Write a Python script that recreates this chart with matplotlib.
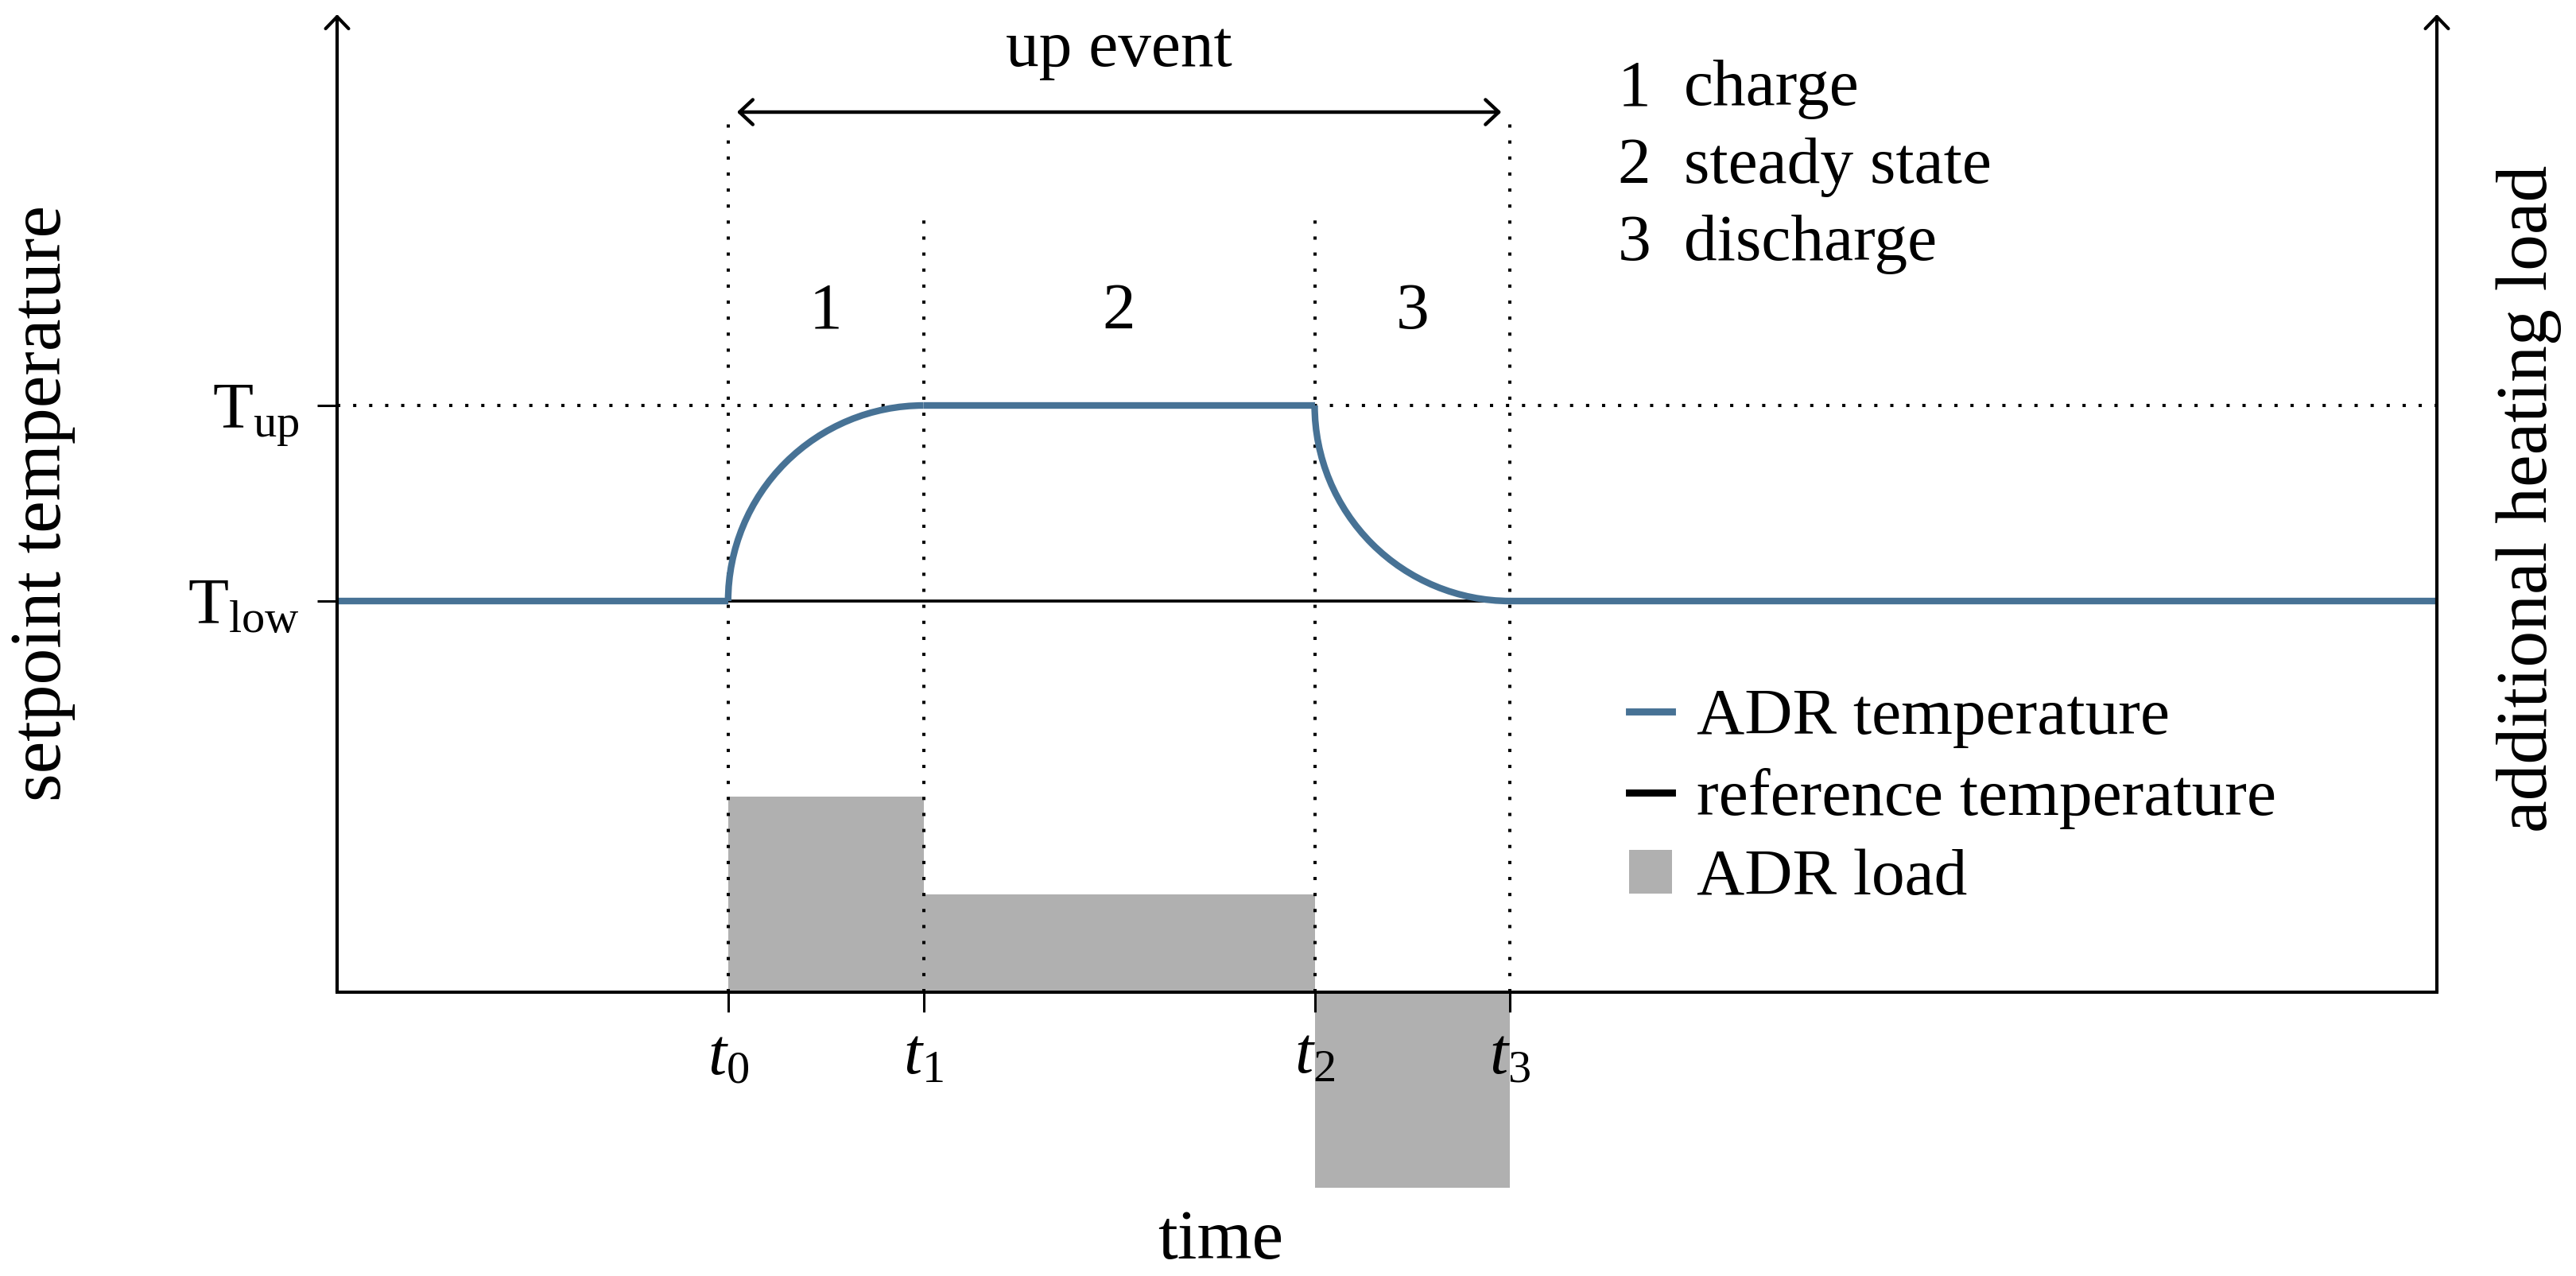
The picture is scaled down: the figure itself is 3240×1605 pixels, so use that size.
import matplotlib
matplotlib.use("Agg")
import matplotlib.pyplot as plt
from matplotlib.patches import Arc, FancyArrowPatch, Patch
from matplotlib.lines import Line2D
from matplotlib.transforms import blended_transform_factory

# ---------------- data ----------------
t_names = [r"$t_0$", r"$t_1$", r"$t_2$", r"$t_3$"]
t_vals = [2.0, 3.0, 5.0, 6.0]
x_max = 10.74
T_names = [r"$\mathrm{T}_{\mathrm{low}}$", r"$\mathrm{T}_{\mathrm{up}}$"]
T_vals = [4.0, 6.0]
load_heights = [2.0, 1.0, -2.0]          # ADR load per phase (charge, steady, discharge)
phase_numbers = ["1", "2", "3"]
phase_names = ["charge", "steady state", "discharge"]
legend_labels = ["ADR temperature", "reference temperature", "ADR load"]
axis_top = 10.0
event_level = 9.0
inner_level = 8.0

BLUE = "#477295"
GRAY = "#b0b0b0"

plt.rcParams["font.family"] = ["Liberation Serif", "DejaVu Serif"]
plt.rcParams["mathtext.fontset"] = "custom"
plt.rcParams["mathtext.rm"] = "Liberation Serif"
plt.rcParams["mathtext.it"] = "Liberation Serif:italic"

W, H, DPI = 3241, 1605, 200
fig = plt.figure(figsize=(W / DPI, H / DPI), dpi=DPI)
y_lo, y_hi = -2.1, 10.1
px_per_unit = 123.0
y0_px = 1248.0
bot_px = y0_px - y_lo * px_per_unit
top_px = y0_px - y_hi * px_per_unit
left_px, right_px = 424.0, 3065.0
ax = fig.add_axes([left_px / W, (H - bot_px) / H, (right_px - left_px) / W, (bot_px - top_px) / H])
ax.set_xlim(0, x_max)
ax.set_ylim(y_lo, y_hi)

t0, t1, t2, t3 = t_vals
T_low, T_up = T_vals

# ADR load bars
ax.bar([t0, t1, t2], load_heights, width=[t1 - t0, t2 - t1, t3 - t2], align="edge",
       color=GRAY, edgecolor="none", zorder=1)

dot = (0, (1, 4))
# dotted helper lines
ax.plot([0, x_max], [T_up, T_up], color="black", lw=1.45, linestyle=dot, zorder=2)
ax.vlines([t0, t3], 0, event_level, color="black", lw=1.45, linestyles=[dot], zorder=3)
ax.vlines([t1, t2], 0, inner_level, color="black", lw=1.45, linestyles=[dot], zorder=3)

# reference temperature
ax.plot([0, x_max], [T_low, T_low], color="black", lw=1.35, zorder=4)

# ADR temperature
lw_b = 3.0
ax.plot([0, t0], [T_low, T_low], color=BLUE, lw=lw_b, solid_capstyle="butt", zorder=5)
ax.plot([t1, t2], [T_up, T_up], color=BLUE, lw=lw_b, solid_capstyle="butt", zorder=5)
ax.plot([t3, x_max], [T_low, T_low], color=BLUE, lw=lw_b, solid_capstyle="butt", zorder=5)
ax.add_patch(Arc((t1, T_low), 2 * (t1 - t0), 2 * (T_up - T_low), theta1=90, theta2=180,
                 color=BLUE, lw=lw_b, zorder=5))
ax.add_patch(Arc((t3, T_up), 2 * (t3 - t2), 2 * (T_up - T_low), theta1=180, theta2=270,
                 color=BLUE, lw=lw_b, zorder=5))

# axes
for s in ["top", "right", "left"]:
    ax.spines[s].set_visible(False)
ax.spines["bottom"].set_position(("data", 0))
ax.spines["bottom"].set_linewidth(1.45)
ax.spines["bottom"].set_zorder(6)

ax.set_xticks(t_vals, t_names)
ax.set_yticks(T_vals, T_names)
ax.tick_params(axis="x", length=9, width=1.1, direction="out", pad=7, labelsize=30)
ax.tick_params(axis="y", length=9, width=1.1, direction="out", pad=8, labelsize=30)

arrow_kw = dict(arrowstyle="->,head_length=0.27,head_width=0.26", mutation_scale=20,
                lw=1.5, color="black", shrinkA=0, shrinkB=0, clip_on=False, zorder=7)
ax.add_patch(FancyArrowPatch((0, 0), (0, axis_top), transform=ax.transData, **arrow_kw))
ax.add_patch(FancyArrowPatch((x_max, 0), (x_max, axis_top), transform=ax.transData, **arrow_kw))
ax.add_patch(FancyArrowPatch((t0, event_level), (t3, event_level), transform=ax.transData,
                             arrowstyle="<->,head_length=0.3,head_width=0.28", mutation_scale=20,
                             lw=1.6, color="black", shrinkA=4, shrinkB=4, clip_on=False, zorder=7))

ax.text((t0 + t3) / 2, 9.47, "up event", ha="center", va="baseline", fontsize=30)

mids = [(t0 + t1) / 2, (t1 + t2) / 2, (t2 + t3) / 2]
for xm, n in zip(mids, phase_numbers):
    ax.text(xm, 6.79, n, ha="center", va="baseline", fontsize=30)

list_y = [9.07, 8.28, 7.49]
for yy, n, name in zip(list_y, phase_numbers, phase_names):
    ax.text(6.55, yy, n, ha="left", va="baseline", fontsize=30)
    ax.text(6.89, yy, name, ha="left", va="baseline", fontsize=30)

# axis labels
trans_l = blended_transform_factory(fig.transFigure, ax.transData)
ax.text(54 / W, 5.0, "setpoint temperature", rotation=90, ha="center", va="center",
        fontsize=33, transform=trans_l)
ax.text(3181 / W, 5.05, "additional heating load", rotation=90, ha="center", va="center",
        fontsize=33, transform=trans_l)
ax.text(4.52, -2.72, "time", ha="center", va="baseline", fontsize=32, clip_on=False)

handles = [Line2D([], [], color=BLUE, lw=3.2),
           Line2D([], [], color="black", lw=3.2),
           Patch(facecolor=GRAY, edgecolor="none")]
ax.legend(handles, legend_labels, loc="center left", bbox_to_anchor=(6.61, 1.98),
          bbox_transform=ax.transData, frameon=False, fontsize=30, borderpad=0,
          borderaxespad=0, handlelength=0.64, handleheight=0.64, handletextpad=0.37,
          labelspacing=0.30)

fig.savefig("out.png", dpi=DPI)
